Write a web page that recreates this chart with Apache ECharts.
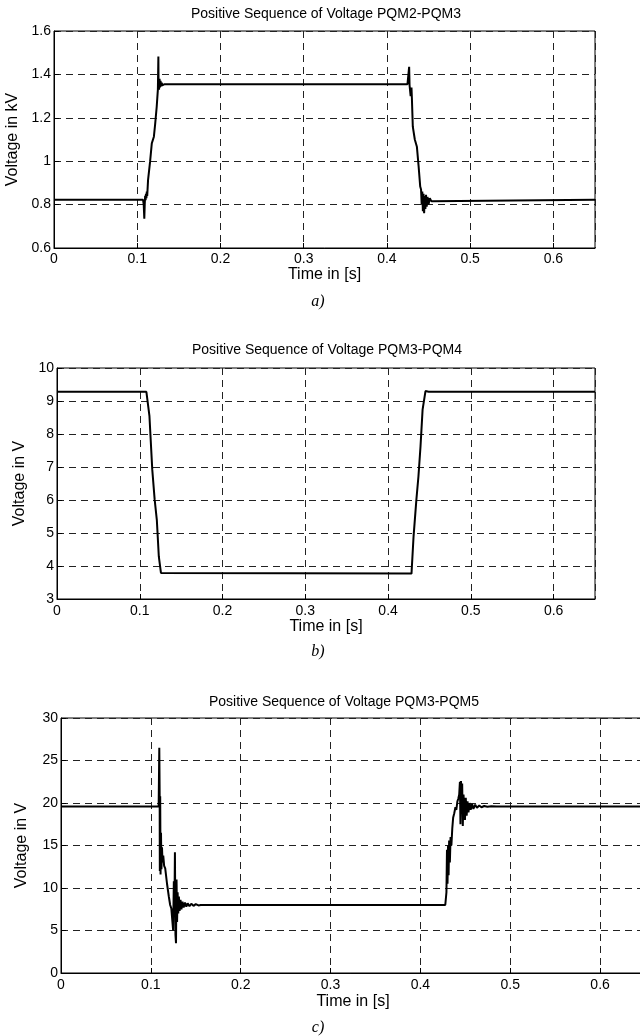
<!DOCTYPE html>
<html>
<head>
<meta charset="utf-8">
<script src="https://cdn.jsdelivr.net/npm/echarts@6/dist/echarts.min.js"></script>
<style>
  html, body { margin: 0; padding: 0; background: #fff; overflow: hidden; }
  #chart { width: 640px; height: 1036px; }
</style>
</head>
<body>
<div id="chart"></div>
<script>
// a) PQM2-PQM3, kV
var timeA = [0, 0.107, 0.1078, 0.1085, 0.109, 0.1095, 0.110, 0.1105, 0.111, 0.1115, 0.112, 0.113, 0.1155, 0.1175, 0.120, 0.1215, 0.1234, 0.1248, 0.1254, 0.1256, 0.1262, 0.1268, 0.1274, 0.128, 0.1287, 0.1294, 0.130, 0.131, 0.133,
  0.4247, 0.4262, 0.4267, 0.4272, 0.4285, 0.4295, 0.430, 0.4311, 0.4335, 0.436, 0.438, 0.440, 0.441, 0.4418, 0.4425, 0.4432, 0.444, 0.4447, 0.4455, 0.4462, 0.447, 0.4478, 0.4488, 0.450, 0.4515, 0.4535, 0.4555, 0.65];
var voltA = [0.822, 0.822, 0.80, 0.735, 0.80, 0.84, 0.82, 0.85, 0.83, 0.86, 0.84, 0.913, 1.00, 1.082, 1.113, 1.17, 1.251, 1.33, 1.482, 1.36, 1.33, 1.38, 1.34, 1.37, 1.345, 1.362, 1.35, 1.358, 1.355,
  1.355, 1.36, 1.435, 1.35, 1.30, 1.34, 1.29, 1.159, 1.10, 1.067, 0.98, 0.883, 0.87, 0.80, 0.86, 0.77, 0.85, 0.76, 0.84, 0.78, 0.845, 0.79, 0.835, 0.80, 0.83, 0.815, 0.822, 0.822];

// b) PQM3-PQM4, V
var timeB = [0, 0.108, 0.1117, 0.1151, 0.118, 0.1206, 0.123, 0.1256, 0.127, 0.4283, 0.4308, 0.4342, 0.4367, 0.4392, 0.4417, 0.4442, 0.4452, 0.4458, 0.4465, 0.4475, 0.449, 0.65];
var voltB = [9.28, 9.28, 8.54, 6.92, 6.01, 5.40, 4.29, 3.79, 3.77, 3.77, 4.9, 6.01, 6.72, 7.63, 8.74, 9.14, 9.30, 9.36, 9.25, 9.33, 9.28, 9.28];

// c) PQM3-PQM5, V
var timeC = [0, 0.1087, 0.1094, 0.1098, 0.1100, 0.1104, 0.1108, 0.1113, 0.1118, 0.1124, 0.1130, 0.1138, 0.1148, 0.1160, 0.1180, 0.1200, 0.1215, 0.1228, 0.1240, 0.1248, 0.1256, 0.1262, 0.1268, 0.1274, 0.1280, 0.1286, 0.1292, 0.1298, 0.1305, 0.1312, 0.1320, 0.1330, 0.1340, 0.1352, 0.1365, 0.1380, 0.1395, 0.1410, 0.1430, 0.1450, 0.1475, 0.1500, 0.1530, 0.1556,
  0.4277, 0.4290, 0.4296, 0.4302, 0.4308, 0.4314, 0.4320, 0.4328, 0.4336, 0.4345, 0.4355, 0.4365, 0.4377, 0.4390, 0.4400, 0.4412, 0.4422, 0.4432, 0.4440, 0.4446, 0.4452, 0.4458, 0.4465, 0.4472, 0.4480, 0.4488, 0.4496, 0.4505, 0.4515, 0.4525, 0.4535, 0.4548, 0.4560, 0.4575, 0.4590, 0.4610, 0.4630, 0.4655, 0.4680, 0.4710, 0.4745, 0.4790, 0.4850, 0.4880, 0.65];
var voltC = [19.6, 19.6, 26.5, 21.0, 12.0, 20.8, 11.6, 16.5, 12.2, 14.8, 13.0, 13.8, 12.6, 12.3, 10.5, 9.0, 8.0, 7.6, 7.8, 5.0, 10.8, 7.0, 14.2, 4.5, 3.5, 11.0, 6.0, 9.5, 7.0, 9.0, 7.3, 8.6, 7.5, 8.4, 7.7, 8.3, 7.8, 8.2, 7.85, 8.15, 7.9, 8.1, 7.95, 8.0,
  8.0, 9.5, 14.5, 10.5, 15.0, 11.5, 15.6, 13.0, 16.0, 15.0, 17.0, 18.3, 18.8, 19.5, 19.2, 20.2, 20.5, 21.0, 22.5, 17.5, 22.6, 19.0, 22.3, 17.3, 21.0, 19.5, 18.0, 20.6, 18.5, 20.2, 18.9, 20.0, 19.2, 19.9, 19.3, 19.8, 19.45, 19.7, 19.5, 19.65, 19.55, 19.62, 19.58, 19.6, 19.6];

var titles = ['Positive Sequence of Voltage PQM2-PQM3', 'Positive Sequence of Voltage PQM3-PQM4', 'Positive Sequence of Voltage PQM3-PQM5'];
var yNames = ['Voltage in kV', 'Voltage in V', 'Voltage in V'];
var panelLabels = ['a)', 'b)', 'c)'];

function zip(t, v) {
  var out = [];
  for (var i = 0; i < t.length; i++) out.push([t[i], v[i]]);
  return out;
}

var font = 'Liberation Sans, Arial, sans-serif';
var serif = 'Liberation Serif, Times New Roman, serif';
var dash = { color: '#222', width: 1, type: [7, 5] };

function xAxisFor(i, gap, margin) {
  return {
    gridIndex: i, type: 'value', min: 0, max: 0.65, interval: 0.1,
    name: 'Time in [s]', nameLocation: 'middle', nameGap: gap,
    nameTextStyle: { color: '#000', fontFamily: font, fontSize: 16 },
    axisLine: { show: true, lineStyle: { color: '#000', width: 1 } },
    axisTick: { show: true, inside: true, length: 5, lineStyle: { color: '#000' } },
    axisLabel: { color: '#000', fontFamily: font, fontSize: 14, margin: margin, showMaxLabel: false },
    splitLine: { show: true, lineStyle: dash }
  };
}

function yAxisFor(i, min, max, step, gap) {
  return {
    gridIndex: i, type: 'value', min: min, max: max, interval: step,
    name: yNames[i], nameLocation: 'middle', nameGap: gap,
    nameTextStyle: { color: '#000', fontFamily: font, fontSize: 16 },
    axisLine: { show: true, lineStyle: { color: '#000', width: 1 } },
    axisTick: { show: true, inside: true, length: 5, lineStyle: { color: '#000' } },
    axisLabel: { color: '#000', fontFamily: font, fontSize: 14, margin: 3 },
    splitLine: { show: true, lineStyle: dash }
  };
}

function lineFor(i, data) {
  return {
    type: 'line', xAxisIndex: i, yAxisIndex: i, data: data,
    showSymbol: false, symbol: 'none', animation: false,
    lineStyle: { color: '#000', width: 2 }
  };
}

function textAt(text, x, y, style) {
  return { text: text, left: x, top: y, padding: 0, textAlign: 'center', textStyle: style };
}

var titleStyle = { fontFamily: font, fontSize: 14, fontWeight: 'normal', color: '#000' };
var panelStyle = { fontFamily: serif, fontStyle: 'italic', fontSize: 16, fontWeight: 'normal', color: '#000' };
var gridStyle = { show: true, borderColor: '#000', borderWidth: 1, backgroundColor: '#fff', containLabel: false, outerBoundsMode: 'none' };

var option = {
  backgroundColor: '#fff',
  animation: false,
  title: [
    textAt(titles[0], 326, 7, titleStyle),
    textAt(titles[1], 327, 343, titleStyle),
    textAt(titles[2], 344, 695, titleStyle),
    textAt(panelLabels[0], 318, 294, panelStyle),
    textAt(panelLabels[1], 318, 644, panelStyle),
    textAt(panelLabels[2], 318, 1020, panelStyle)
  ],
  grid: [
    Object.assign({ left: 54, top: 31, width: 541, height: 217 }, gridStyle),
    Object.assign({ left: 57, top: 368, width: 538, height: 231 }, gridStyle),
    Object.assign({ left: 61, top: 718, width: 584, height: 255 }, gridStyle)
  ],
  xAxis: [xAxisFor(0, 18, 4), xAxisFor(1, 20, 5), xAxisFor(2, 21, 5)],
  yAxis: [yAxisFor(0, 0.6, 1.6, 0.2, 27), yAxisFor(1, 3, 10, 1, 29), yAxisFor(2, 0, 30, 5, 31)],
  series: [lineFor(0, zip(timeA, voltA)), lineFor(1, zip(timeB, voltB)), lineFor(2, zip(timeC, voltC))]
};

var myChart = echarts.init(document.getElementById('chart'), null, { renderer: 'canvas' });
myChart.setOption(option);
</script>
</body>
</html>
